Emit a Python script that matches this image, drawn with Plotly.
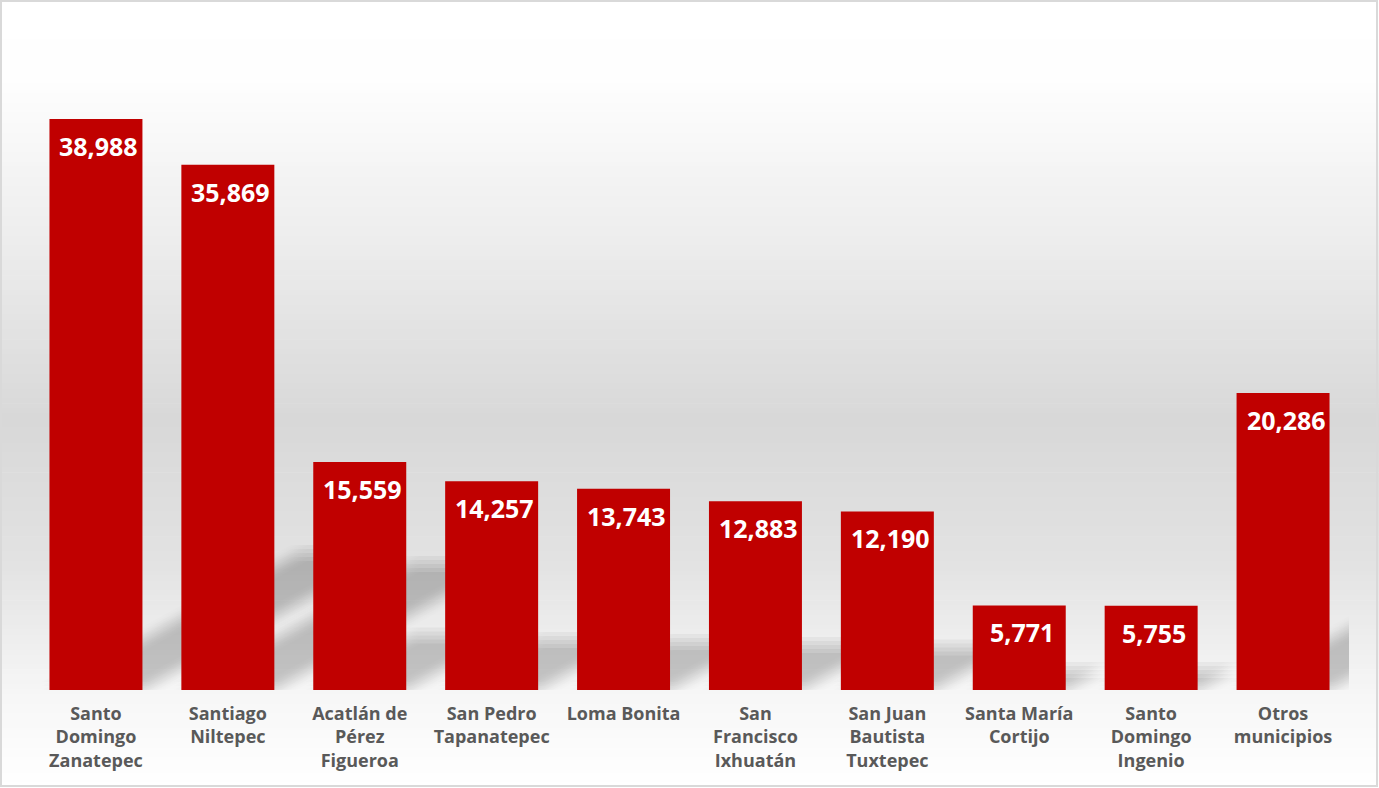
import plotly.graph_objects as go
import numpy as np

# ---- data ----
categories = [
    "Santo Domingo Zanatepec", "Santiago Niltepec", "Acatlán de Pérez Figueroa",
    "San Pedro Tapanatepec", "Loma Bonita", "San Francisco Ixhuatán",
    "San Juan Bautista Tuxtepec", "Santa María Cortijo", "Santo Domingo Ingenio",
    "Otros municipios",
]
tick_labels = [
    "Santo<br>Domingo<br>Zanatepec", "Santiago<br>Niltepec", "Acatlán de<br>Pérez<br>Figueroa",
    "San Pedro<br>Tapanatepec", "Loma Bonita", "San<br>Francisco<br>Ixhuatán",
    "San Juan<br>Bautista<br>Tuxtepec", "Santa María<br>Cortijo", "Santo<br>Domingo<br>Ingenio",
    "Otros<br>municipios",
]
values = [38988, 35869, 15559, 14257, 13743, 12883, 12190, 5771, 5755, 20286]

# ---- layout constants ----
W, H = 1379, 788
ML, MR, MT, MB = 30, 30, 20, 98
PW, PH = W - ML - MR, H - MT - MB
YMAX = 45746
BARGAP = 0.295
BAR_COLOR = "#C00000"
FONT = "Open Sans"
NCAT = len(categories)

fig = go.Figure()
fig.add_trace(go.Bar(
    x=categories, y=values, marker=dict(color=BAR_COLOR, line=dict(width=0)),
    hoverinfo="skip", showlegend=False,
))

shapes = []

# background gradient (vertical), drawn as thin strips in paper coords
stops_px = [0, 80, 250, 420, 560, 700, 788]
stops_val = [255, 254, 236, 216, 226, 247, 255]
n = 160
edges = np.linspace(0, H, n + 1)
for i in range(n):
    p0, p1 = edges[i], edges[i + 1]
    c = int(round(np.interp((p0 + p1) / 2, stops_px, stops_val)))
    shapes.append(dict(
        type="rect", xref="paper", yref="paper", layer="below",
        x0=-ML / PW, x1=(W - ML) / PW,
        y0=(H - MB - p1) / PH, y1=(H - MB - p0) / PH + 0.001,
        line=dict(width=0), fillcolor=f"rgb({c},{c},{c})",
    ))

# soft diagonal shadows behind bars (cast toward upper right), blurred by offset copies
step_px = PW / NCAT
k = PH / YMAX
half = (1 - BARGAP) / 2
offs = [-8, -4, 0, 4, 8]
for i, v in enumerate(values):
    dy_val = 0.24 * v
    dx_cat = (dy_val * k / 0.55) / step_px
    for ox in offs:
        for oy in offs:
            ox_c = ox / step_px
            oy_v = oy / k
            xl, xr = i - half + ox_c, i + half + ox_c
            y0 = oy_v
            path = (f"M {xl},{y0} L {xr},{y0} "
                    f"L {xr + dx_cat},{y0 + dy_val} L {xl + dx_cat},{y0 + dy_val} Z")
            shapes.append(dict(type="path", xref="x", yref="y", layer="below", path=path,
                               fillcolor="rgba(0,0,0,0.0072)", line=dict(width=0)))

# outer border
shapes.append(dict(type="rect", xref="paper", yref="paper", layer="above",
                   x0=(1 - ML) / PW, x1=(W - 2 - ML) / PW,
                   y0=(H - MB - (H - 2)) / PH, y1=(H - MB - 1) / PH,
                   line=dict(color="#d9d9d9", width=2), fillcolor="rgba(0,0,0,0)"))

annotations = [
    dict(x=c, y=v, xref="x", yref="y", text=f"{v:,}", showarrow=False,
         yanchor="top", xanchor="center", yshift=-8, xshift=3,
         font=dict(family=FONT, size=25, color="white", weight="bold"))
    for c, v in zip(categories, values)
]

fig.update_layout(
    width=W, height=H,
    margin=dict(l=ML, r=MR, t=MT, b=MB),
    paper_bgcolor="white", plot_bgcolor="rgba(0,0,0,0)",
    bargap=BARGAP,
    shapes=shapes, annotations=annotations,
    xaxis=dict(tickmode="array", tickvals=categories, ticktext=tick_labels,
               range=[-0.5, NCAT - 0.5], autorange=False,
               showgrid=False, showline=False, zeroline=False, ticks="",
               ticklabelstandoff=11,
               tickfont=dict(family=FONT, size=18, color="#595959", weight="bold"),
               fixedrange=True),
    yaxis=dict(range=[0, YMAX], autorange=False, visible=False, showgrid=False,
               zeroline=False, fixedrange=True),
)

fig.write_html("out.html", config={"displayModeBar": False},
               post_script="document.body.style.margin='0';document.body.style.overflow='hidden';")
